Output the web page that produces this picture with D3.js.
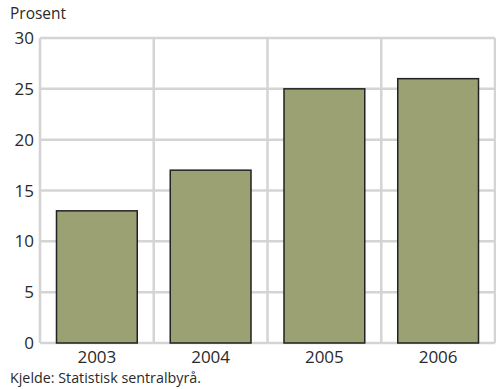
<!DOCTYPE html>
<html>
<head>
<meta charset="utf-8">
<script src="https://cdn.jsdelivr.net/npm/d3@7"></script>
<style>
  body { margin: 0; background: #fff; }
  text { font-family: "Open Sans", sans-serif; fill: #2a2a2a; }
</style>
</head>
<body>
<div id="chart"></div>
<script>
//chart data
const years = ["2003", "2004", "2005", "2006"];
const values = [13, 17, 25, 26];
const yTicks = [0, 5, 10, 15, 20, 25, 30];

const width = 496;
const height = 389;
const margin = { top: 38, right: 1, bottom: 46, left: 40 };

const svg = d3.select("#chart")
  .append("svg")
  .attr("width", width)
  .attr("height", height);

const x = d3.scaleBand()
  .domain(years)
  .range([margin.left, width - margin.right])
  .paddingInner(0.29)
  .paddingOuter(0.145);

const y = d3.scaleLinear()
  .domain([0, 30])
  .range([height - margin.bottom, margin.top]);

const step = x.step();
const gridColor = "#d4d4d4";

//horizontal grid lines
svg.append("g")
  .selectAll("line")
  .data(yTicks)
  .join("line")
  .attr("x1", margin.left)
  .attr("x2", width - margin.right)
  .attr("y1", d => y(d))
  .attr("y2", d => y(d))
  .attr("stroke", gridColor)
  .attr("stroke-width", 2.5);

//vertical grid lines between categories
const vlines = [margin.left].concat(years.map(d => x(d) - x.paddingInner() * step / 2 + step));
svg.append("g")
  .selectAll("line")
  .data(vlines)
  .join("line")
  .attr("x1", d => d)
  .attr("x2", d => d)
  .attr("y1", y(30))
  .attr("y2", y(0))
  .attr("stroke", gridColor)
  .attr("stroke-width", 2.5);

//bars
svg.append("g")
  .selectAll("rect")
  .data(values)
  .join("rect")
  .attr("x", (d, i) => x(years[i]))
  .attr("y", d => y(d))
  .attr("width", x.bandwidth())
  .attr("height", d => y(0) - y(d))
  .attr("fill", "#9ca173")
  .attr("stroke", "#222")
  .attr("stroke-width", 1.5);

//y tick labels
svg.append("g")
  .selectAll("text")
  .data(yTicks)
  .join("text")
  .attr("x", 34)
  .attr("y", d => y(d))
  .attr("dy", "0.36em")
  .attr("text-anchor", "end")
  .attr("font-size", "17px")
  .text(d => d);

//x tick labels
svg.append("g")
  .selectAll("text")
  .data(years)
  .join("text")
  .attr("x", d => x(d) + x.bandwidth() / 2)
  .attr("y", y(0) + 20)
  .attr("text-anchor", "middle")
  .attr("font-size", "17px")
  .text(d => d);

//unit label
svg.append("text")
  .attr("x", 10)
  .attr("y", 19)
  .attr("font-size", "15.5px")
  .text("Prosent");

//source
svg.append("text")
  .attr("x", 10)
  .attr("y", 383)
  .attr("font-size", "14.3px")
  .text("Kjelde: Statistisk sentralbyrå.");
</script>
</body>
</html>
